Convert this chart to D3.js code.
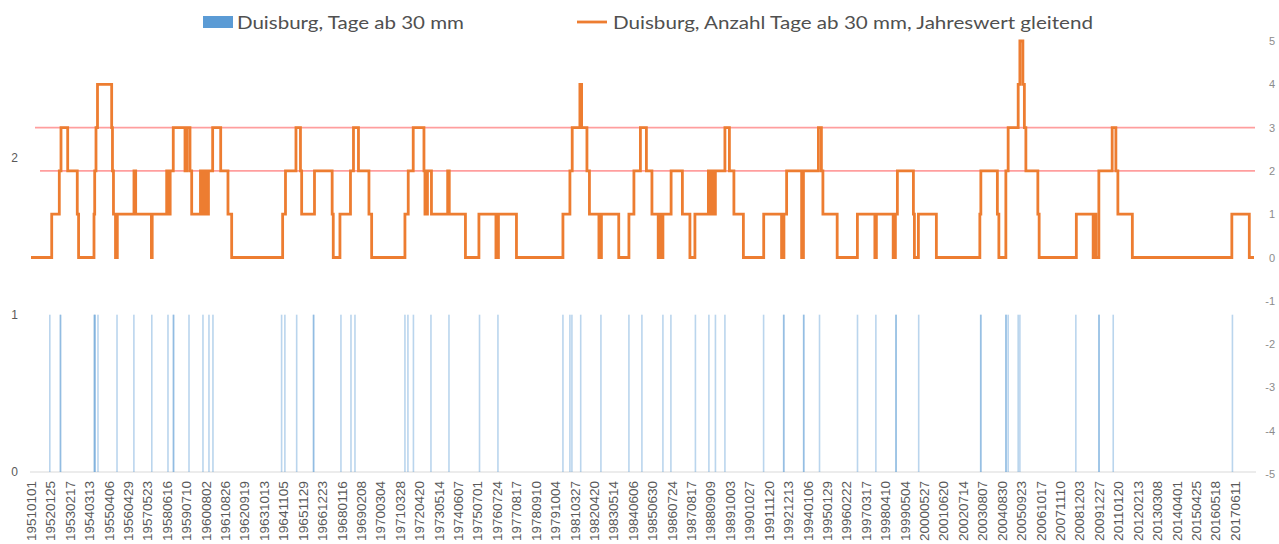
<!DOCTYPE html>
<html>
<head>
<meta charset="utf-8">
<script src="https://cdn.jsdelivr.net/npm/d3@7"></script>
<style>
  html, body { margin: 0; padding: 0; background: #ffffff; }
  svg { display: block; font-family: Lato, "Open Sans", "Liberation Sans", sans-serif; }
</style>
</head>
<body>
<svg id="chart" width="1279" height="544"></svg>
<script>
// ---- Daten ----
// Kategorien: fortlaufende Messtage ab 19510101 (Beschriftung jeder 389. Tag)
const anzahlTage = 24500;
const beschriftungsAbstand = 389;
const tickLabels = [
  "19510101","19520125","19530217","19540313","19550406","19560429","19570523","19580616",
  "19590710","19600802","19610826","19620919","19631013","19641105","19651129","19661223",
  "19680116","19690208","19700304","19710328","19720420","19730514","19740607","19750701",
  "19760724","19770817","19780910","19791004","19810327","19820420","19830514","19840606",
  "19850630","19860724","19870817","19880909","19891003","19901027","19911120","19921213",
  "19940106","19950129","19960222","19970317","19980410","19990504","20000527","20010620",
  "20020714","20030807","20040830","20050923","20061017","20071110","20081203","20091227",
  "20110120","20120213","20130308","20140401","20150425","20160518","20170611"
];

// Tage ab 30 mm (Index des Messtages), jeweils Wert 1
const tageAb30 = [
  377, 589, 592, 1266, 1276, 1286, 1342, 1723, 2061, 2420, 2744, 2850, 2860, 3165,
  3445, 3565, 3645, 5020, 5086, 5322, 5658, 5664, 6209, 6410, 6490, 7491, 7551, 7661,
  8012, 8373, 8985, 9354, 10656, 10796, 10836, 11012, 11417, 11978, 12238, 12659, 12819,
  13310, 13580, 13711, 13901, 14676, 15077, 15083, 15477, 15483, 15796, 16557, 16925,
  17326, 17332, 17783, 19024, 19030, 19529, 19535, 19575, 19776, 19810, 20931, 21392,
  21398, 21680, 24068
];
const tagWert = 1;

// Anzahl Tage ab 30 mm, gleitender Jahreswert (Treppenwerte ab Tag)
const gleitendTag = [
  0, 415, 567, 601, 735, 927, 953, 1262, 1276, 1302, 1332, 1616, 1632, 1652, 1693, 1729,
  2063, 2097, 2412, 2428, 2718, 2768, 2788, 2850, 3085, 3125, 3185, 3219, 3395, 3435,
  3465, 3515, 3555, 3639, 3800, 3946, 4020, 5041, 5098, 5308, 5398, 5422, 5679, 6033,
  6055, 6189, 6400, 6460, 6560, 6770, 6824, 7491, 7557, 7657, 7872, 7892, 7942, 8022,
  8347, 8379, 8703, 8973, 9314, 9364, 9725, 10656, 10796, 10842, 10996, 11030, 11137,
  11187, 11377, 11427, 11774, 11978, 12078, 12208, 12328, 12439, 12565, 12599, 12619,
  12659, 12823, 13049, 13200, 13300, 13570, 13610, 13640, 13670, 13710, 13901, 13991,
  14081, 14271, 14678, 15036, 15083, 15137, 15438, 15474, 15774, 15834, 15864, 16150,
  16555, 16905, 16935, 17272, 17316, 17356, 17677, 17697, 17777, 18137, 19008, 19028,
  19359, 19389, 19529, 19575, 19776, 19810, 19870, 19900, 19930, 20170, 20196, 20941,
  21278, 21312, 21332, 21392, 21659, 21733, 21773, 22063, 24056, 24406, 24500
];
const gleitendWert = [
  0, 1, 2, 3, 2, 1, 0, 1, 2, 3, 4, 3, 2, 1, 0, 1,
  2, 1, 0, 1, 2, 1, 2, 3, 2, 3, 2, 1, 2, 1,
  2, 1, 2, 3, 2, 1, 0, 1, 2, 3, 2, 1, 2, 1,
  0, 1, 2, 3, 2, 1, 0, 1, 2, 3, 2, 1, 2, 1,
  2, 1, 0, 1, 0, 1, 0, 1, 2, 3, 4, 3, 2,
  1, 0, 1, 0, 1, 2, 3, 2, 1, 0, 1, 0,
  1, 2, 1, 0, 1, 2, 1, 2, 1, 2, 3, 2,
  1, 0, 1, 0, 1, 2, 0, 2, 3, 2, 1, 0,
  1, 0, 1, 0, 1, 2, 1, 0, 1, 0, 1, 2,
  1, 0, 2, 3, 4, 5, 4, 3, 2, 1, 0, 1,
  0, 1, 0, 2, 3, 2, 1, 0, 1, 0, 0
];

// Schwellenlinien (rechte Achse) und ihr erster Tag
const schwellen = [2, 3];
const schwellenStart = [180, 80];

const linksTicks = [0, 1, 2];
const rechtsTicks = [-5, -4, -3, -2, -1, 0, 1, 2, 3, 4, 5];

// ---- Layout ----
const svg = d3.select("#chart");
const plot = { left: 31, right: 1254, top: 42, bottom: 472 };

const x = d3.scaleLinear().domain([0, anzahlTage]).range([plot.left, plot.right]);
const yLinks = d3.scaleLinear().domain([0, (plot.bottom - plot.top) / 157.3]).range([plot.bottom, plot.top]);
const yRechts = d3.scaleLinear().domain([-5, 5]).range([plot.bottom + 2, plot.top - 1]);

// Kategorienachse
const xAxis = d3.axisBottom(x)
  .tickValues(tickLabels.map((_, i) => i * beschriftungsAbstand))
  .tickFormat((d, i) => tickLabels[i])
  .tickSize(0)
  .tickSizeOuter(0);

const gx = svg.append("g")
  .attr("transform", `translate(0,${plot.bottom})`)
  .call(xAxis);
gx.select(".domain").remove();
gx.selectAll("text")
  .attr("transform", "rotate(-90)")
  .attr("text-anchor", "end")
  .attr("x", -9)
  .attr("y", 0)
  .attr("dy", "0.36em")
  .attr("fill", "#595959")
  .attr("font-size", 12)
  .attr("textLength", 60)
  .attr("lengthAdjust", "spacingAndGlyphs");

// Grundlinie
svg.append("line")
  .attr("x1", plot.left - 1).attr("x2", plot.right + 2)
  .attr("y1", plot.bottom).attr("y2", plot.bottom)
  .attr("stroke", "#d9d9d9").attr("stroke-width", 1);

// Linke Achse
const gl = svg.append("g")
  .attr("transform", "translate(20,0)")
  .call(d3.axisLeft(yLinks).tickValues(linksTicks).tickFormat(d => String(d)).tickSize(0).tickPadding(2));
gl.select(".domain").remove();
gl.selectAll("text").attr("fill", "#595959").attr("font-size", 12);

// Rechte Achse
const gr = svg.append("g")
  .attr("transform", `translate(${plot.right + 4},0)`)
  .call(d3.axisRight(yRechts).tickValues(rechtsTicks).tickFormat(d => String(d)).tickSize(0));
gr.select(".domain").remove();
gr.selectAll("text")
  .attr("text-anchor", "end")
  .attr("x", 17)
  .attr("fill", "#8c8c8c")
  .attr("font-size", 11);

// Balken: Tage ab 30 mm
svg.append("g")
  .selectAll("rect")
  .data(tageAb30)
  .join("rect")
  .attr("x", d => x(d) - 0.8)
  .attr("width", 1.6)
  .attr("y", yLinks(tagWert))
  .attr("height", yLinks(0) - yLinks(tagWert))
  .attr("fill", "#5b9bd5")
  .attr("fill-opacity", 0.42);

// Schwellenlinien
svg.append("g")
  .selectAll("line")
  .data(schwellen)
  .join("line")
  .attr("x1", (d, i) => x(schwellenStart[i]))
  .attr("x2", x(anzahlTage) + 1)
  .attr("y1", d => yRechts(d))
  .attr("y2", d => yRechts(d))
  .attr("stroke", "#ff0000")
  .attr("stroke-opacity", 0.38)
  .attr("stroke-width", 1.8);

// Gleitender Jahreswert
const punkte = gleitendTag.map((t, i) => [t, gleitendWert[i]]);
const linie = d3.line()
  .x(d => x(d[0]))
  .y(d => yRechts(d[1]))
  .curve(d3.curveStepAfter);
svg.append("path")
  .datum(punkte)
  .attr("d", linie)
  .attr("fill", "none")
  .attr("stroke", "#ed7d31")
  .attr("stroke-width", 2.8)
  .attr("stroke-linejoin", "miter");

// Legende
const legende = svg.append("g");
legende.append("rect")
  .attr("x", 203).attr("y", 16).attr("width", 30).attr("height", 12)
  .attr("fill", "#5b9bd5");
legende.append("text")
  .attr("x", 237).attr("y", 28.5)
  .attr("font-size", 18).attr("fill", "#505050")
  .attr("textLength", 227).attr("lengthAdjust", "spacingAndGlyphs")
  .text("Duisburg, Tage ab 30 mm");
legende.append("line")
  .attr("x1", 577).attr("x2", 607).attr("y1", 22).attr("y2", 22)
  .attr("stroke", "#ed7d31").attr("stroke-width", 2.8);
legende.append("text")
  .attr("x", 613).attr("y", 28.5)
  .attr("font-size", 18).attr("fill", "#505050")
  .attr("textLength", 480).attr("lengthAdjust", "spacingAndGlyphs")
  .text("Duisburg, Anzahl Tage ab 30 mm, Jahreswert gleitend");
</script>
</body>
</html>
